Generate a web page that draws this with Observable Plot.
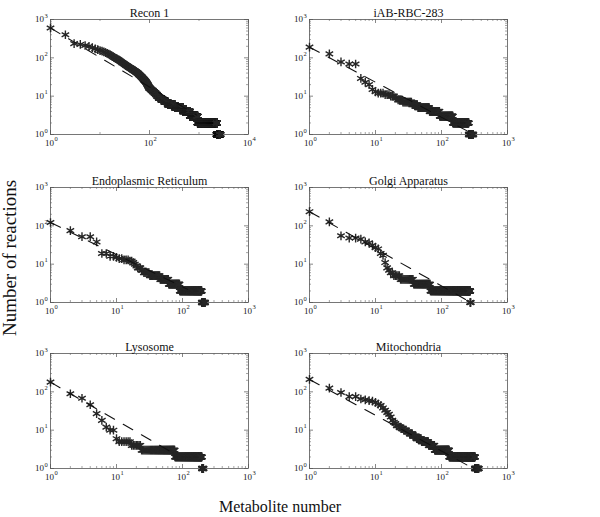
<!DOCTYPE html>
<html><head><meta charset="utf-8">
<script src="https://cdn.jsdelivr.net/npm/d3@7"></script>
<script src="https://cdn.jsdelivr.net/npm/@observablehq/plot@0.6"></script>
<style>
body{margin:0;background:#fff;}
#wrap{position:relative;width:600px;height:517px;overflow:hidden;font-family:"Liberation Serif","Times New Roman",serif;color:#111;}
.p{position:absolute;}
#ylab{position:absolute;left:9px;top:258px;transform:translate(-50%,-50%) rotate(-90deg);font-size:19px;white-space:nowrap;line-height:1;}
#xlab{position:absolute;left:280px;top:499px;transform:translateX(-50%);font-size:16px;white-space:nowrap;line-height:1;}
</style></head>
<body><div id="wrap"><div id="ylab">Number of reactions</div><div id="xlab">Metabolite number</div></div>
<script>
// ---- data ----
const titles = ["Recon 1", "iAB-RBC-283", "Endoplasmic Reticulum", "Golgi Apparatus", "Lysosome", "Mitochondria"];
const xMax = [1e4, 1e3, 1e3, 1e3, 1e3, 1e3];
const xLabelDecades = [[1, 100, 10000], [1, 10, 100, 1000], [1, 10, 100, 1000], [1, 10, 100, 1000], [1, 10, 100, 1000], [1, 10, 100, 1000]];
const yLabelDecades = [1, 10, 100, 1000];

// highest-ranked metabolites (one value per rank), then runs of equal degree
const recon1Top = [600,400,235,224,210,199,185,172,163,155,150,143,137,131,126,120,114,108,103,99,
  97,94,90,87,84,81,78,75,73,71,69,67,65,63,62,60,59,57,56,55,
  54,53,52,51,50,49,48,47,46,46,45,44,43,43,42,41,40,40,39,38];
const recon1Deg = [37,36,35,34,33,32,31,30,29,28,27,26,25,24,23,22,21,20,19,18,17,16,15,14,13,12,11,10,9,8,7,6,5,4,3,2,1];
const recon1Cnt = [1,2,1,2,1,2,2,1,2,2,2,2,2,2,2,2,2,2,2,2,2,6,6,7,8,8,9,10,20,28,35,90,150,180,280,1350,400];

const iabTop = [190,127,78,69,69,29,23,20,15,13];
const iabDeg = [12,11,10,9,8,7,6,5,4,3,2,1];
const iabCnt = [3,3,3,2,4,10,8,22,28,55,110,45];

const erTop = [122,75,52,52,38,19,19,16,16,15,14,14,13,13,13,12,12,11,10,9];
const erDeg = [8,7,6,5,4,3,2,1];
const erCnt = [3,2,6,14,16,29,105,25];

const golgiTop = [234,127,55,48,48,45,38,36,31,27,25,19,17,11,8,7,6,6,5,5];
const golgiDeg = [5,4,3,2,1];
const golgiCnt = [3,14,30,205,4];

const lysoTop = [179,89,68,46,27,18,12,10,10,6];
const lysoDeg = [5,4,3,2,1];
const lysoCnt = [6,7,53,120,12];

const mitoTop = [211,125,96,75,75,65,62,59,57,53,48,44,38,33,29,26,22,18,16,15];
const mitoDeg = [13,12,11,10,9,8,7,6,5,4,3,2,1];
const mitoCnt = [2,2,2,3,3,4,5,8,14,15,52,190,45];

// dashed power-law fit: end points (rank, reactions)
const fitRank = [[1, 900], [1, 310], [1, 120], [1, 280], [1, 65], [1, 305]];
const fitDeg = [[600, 3.2], [190, 1], [122, 2.2], [234, 1], [179, 2.8], [211, 1]];

const tops = [recon1Top, iabTop, erTop, golgiTop, lysoTop, mitoTop];
const degs = [recon1Deg, iabDeg, erDeg, golgiDeg, lysoDeg, mitoDeg];
const cnts = [recon1Cnt, iabCnt, erCnt, golgiCnt, lysoCnt, mitoCnt];

// ---- layout ----
const pos = [[15, 0.5], [274, 1], [15, 168.5], [274, 168.5], [15, 335.3], [274, 335.3]];
const W = 260, H = 155, ML = 35, MR = 27, MT = 18, MB = 22, FH = H - MT - MB;
const FONT = '"Liberation Serif","Times New Roman",serif';
const INK = "#1a1a1a";

function rankPoints(top, deg, cnt) {
  const pts = []; let r = 1;
  for (const d of top) pts.push({rank: r++, deg: d});
  deg.forEach((d, i) => { for (let k = 0; k < cnt[i]; k++) pts.push({rank: r++, deg: d}); });
  return pts;
}

function panel(i) {
  const xm = xMax[i];
  const xLab = xLabelDecades[i];
  let xMajor = xLab, xMinor = [];
  if (xm === 1e4) { xMinor = [10, 1000]; }
  else { for (const d of [1, 10, 100]) for (let k = 2; k < 10; k++) xMinor.push(d * k); }
  const yMinor = []; for (const d of [1, 10, 100]) for (let k = 2; k < 10; k++) yMinor.push(d * k);
  const pts = rankPoints(tops[i], degs[i], cnts[i]);
  const fit = fitRank[i].map((r, j) => ({rank: r, deg: fitDeg[i][j]}));
  const exp = d => String(Math.round(Math.log10(d)));
  return Plot.plot({
    width: W, height: H, marginLeft: ML, marginRight: MR, marginTop: MT, marginBottom: MB,
    x: {type: "log", domain: [1, xm], axis: null},
    y: {type: "log", domain: [1, 1000], axis: null},
    style: {fontFamily: FONT, background: "transparent", overflow: "visible", color: INK},
    marks: [
      Plot.frame({stroke: "#555", strokeWidth: 0.8}),
      Plot.tickX(xMajor, {x: d => d, insetTop: FH - 4, stroke: "#555", strokeWidth: 0.7}),
      Plot.tickX(xMajor, {x: d => d, insetBottom: FH - 4, stroke: "#555", strokeWidth: 0.7}),
      Plot.tickX(xMinor, {x: d => d, insetTop: FH - 2, stroke: "#666", strokeWidth: 0.6}),
      Plot.tickX(xMinor, {x: d => d, insetBottom: FH - 2, stroke: "#666", strokeWidth: 0.6}),
      Plot.tickY(yLabelDecades, {y: d => d, insetRight: W - ML - MR - 4, stroke: "#555", strokeWidth: 0.7}),
      Plot.tickY(yLabelDecades, {y: d => d, insetLeft: W - ML - MR - 4, stroke: "#555", strokeWidth: 0.7}),
      Plot.tickY(yMinor, {y: d => d, insetRight: W - ML - MR - 2, stroke: "#666", strokeWidth: 0.6}),
      Plot.tickY(yMinor, {y: d => d, insetLeft: W - ML - MR - 2, stroke: "#666", strokeWidth: 0.6}),
      Plot.dot(pts, {x: "rank", y: "deg", symbol: "asterisk", r: 4.1, stroke: "#262626", strokeWidth: 1.4}),
      Plot.line(fit, {x: "rank", y: "deg", stroke: "#111", strokeWidth: 1.1, strokeDasharray: "11,10"}),
      // tick labels: 10 with superscript exponent
      Plot.text(xLab, {x: d => d, text: () => "10", frameAnchor: "bottom", dx: -1, dy: 11.5, fontSize: 9, fill: INK}),
      Plot.text(xLab, {x: d => d, text: exp, frameAnchor: "bottom", textAnchor: "start", dx: 4, dy: 6.5, fontSize: 6.5, fill: INK}),
      Plot.text(yLabelDecades, {y: d => d, text: () => "10", frameAnchor: "left", textAnchor: "end", dx: -6.5, fontSize: 9, fill: INK}),
      Plot.text(yLabelDecades, {y: d => d, text: exp, frameAnchor: "left", textAnchor: "start", dx: -6, dy: -4, fontSize: 6.5, fill: INK}),
      Plot.text([titles[i]], {text: d => d, frameAnchor: "top", dy: -11, fontSize: 12, fill: "#111"})
    ]
  });
}

const wrap = document.getElementById("wrap");
for (let i = 0; i < 6; i++) {
  const svg = panel(i);
  svg.classList.add("p");
  svg.style.left = pos[i][0] + "px";
  svg.style.top = pos[i][1] + "px";
  svg.style.position = "absolute";
  wrap.appendChild(svg);
}
</script></body></html>
